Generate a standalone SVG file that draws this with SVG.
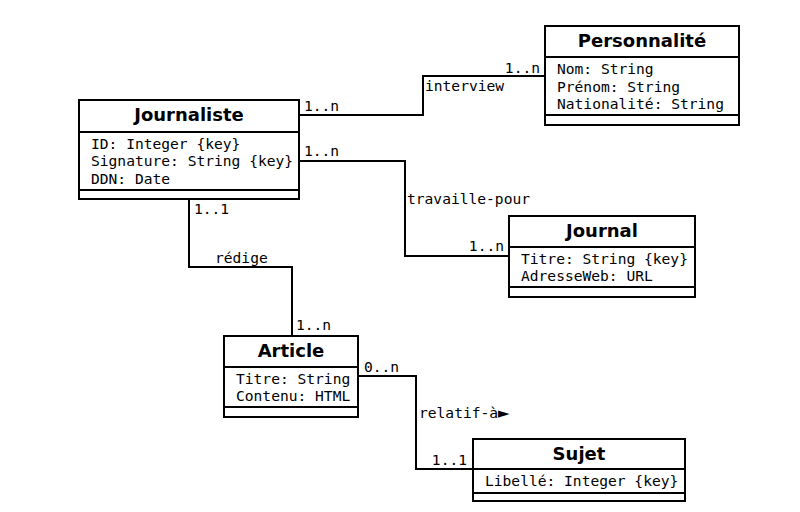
<svg xmlns="http://www.w3.org/2000/svg" width="800" height="512" viewBox="0 0 800 512">
<style>
.box{fill:#fff;stroke:#000;stroke-width:2}
.sep{stroke:#000;stroke-width:2}
.title{font-family:"DejaVu Sans",sans-serif;font-weight:bold;font-size:18px;text-anchor:middle;fill:#000}
.attr{font-family:"DejaVu Sans Mono",monospace;font-size:14.6px;fill:#000}
.lbl{font-family:"DejaVu Sans Mono",monospace;font-size:14.6px;fill:#000}
.end{text-anchor:end}
.conn{fill:none;stroke:#000;stroke-width:2}
</style>
<rect width="800" height="512" fill="#fff"/>
<g id="connectors">
<polyline class="conn" points="299,115 423,115 423,76 545,76"/>
<polyline class="conn" points="299,161 405,161 405,256 509,256"/>
<polyline class="conn" points="189,199 189,267 292,267 292,336"/>
<polyline class="conn" points="358,376 416,376 416,469 473,469"/>
<text class="lbl" x="304" y="111">1..n</text>
<text class="lbl end" x="540" y="73">1..n</text>
<text class="lbl" x="425" y="91">interview</text>
<text class="lbl" x="304" y="156">1..n</text>
<text class="lbl end" x="504" y="251">1..n</text>
<text class="lbl" x="407" y="204">travaille-pour</text>
<text class="lbl" x="194" y="214">1..1</text>
<text class="lbl" x="215" y="263">rédige</text>
<text class="lbl" x="296" y="330">1..n</text>
<text class="lbl" x="364" y="372">0..n</text>
<text class="lbl" x="419" y="418">relatif-à<tspan style="font-family:'DejaVu Sans',sans-serif;font-size:15px">►</tspan></text>
<text class="lbl end" x="467" y="465">1..1</text>
</g>
<g id="journaliste">
<rect class="box" x="79" y="100" width="220" height="99"/>
<line class="sep" x1="79" y1="132" x2="299" y2="132"/>
<line class="sep" x1="79" y1="190" x2="299" y2="190"/>
<text class="title" x="189" y="121">Journaliste</text>
<text class="attr" x="91" y="148.5">ID: Integer {key}</text>
<text class="attr" x="91" y="166">Signature: String {key}</text>
<text class="attr" x="91" y="183.5">DDN: Date</text>
</g>
<g id="personnalite">
<rect class="box" x="545" y="26" width="194" height="99"/>
<line class="sep" x1="545" y1="57" x2="739" y2="57"/>
<line class="sep" x1="545" y1="115" x2="739" y2="115"/>
<text class="title" x="642" y="47">Personnalité</text>
<text class="attr" x="557" y="74">Nom: String</text>
<text class="attr" x="557" y="91.5">Prénom: String</text>
<text class="attr" x="557" y="109">Nationalité: String</text>
</g>
<g id="journal">
<rect class="box" x="509" y="216" width="186" height="81"/>
<line class="sep" x1="509" y1="247" x2="695" y2="247"/>
<line class="sep" x1="509" y1="287" x2="695" y2="287"/>
<text class="title" x="602" y="237">Journal</text>
<text class="attr" x="521" y="263.5">Titre: String {key}</text>
<text class="attr" x="521" y="281">AdresseWeb: URL</text>
</g>
<g id="article">
<rect class="box" x="224" y="336" width="134" height="81"/>
<line class="sep" x1="224" y1="367" x2="358" y2="367"/>
<line class="sep" x1="224" y1="407" x2="358" y2="407"/>
<text class="title" x="291" y="357">Article</text>
<text class="attr" x="236" y="383.5">Titre: String</text>
<text class="attr" x="236" y="401">Contenu: HTML</text>
</g>
<g id="sujet">
<rect class="box" x="473" y="439" width="212" height="62"/>
<line class="sep" x1="473" y1="469" x2="685" y2="469"/>
<line class="sep" x1="473" y1="493" x2="685" y2="493"/>
<text class="title" x="579" y="460">Sujet</text>
<text class="attr" x="485" y="486">Libellé: Integer {key}</text>
</g>
</svg>
